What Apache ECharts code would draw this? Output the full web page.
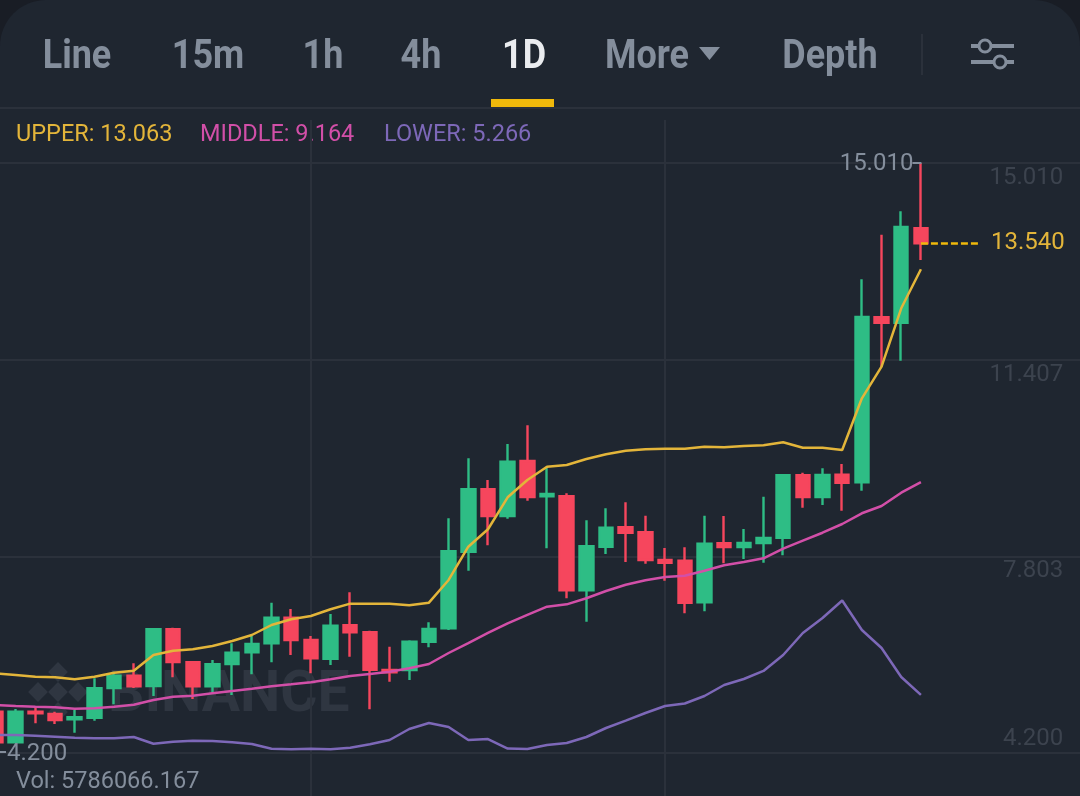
<!DOCTYPE html>
<html>
<head>
<meta charset="utf-8">
<title>1D</title>
<style>
html,body{margin:0;padding:0;background:#191d25;}
#kline{width:1080px;height:796px;}
</style>
<script src="https://cdn.jsdelivr.net/npm/echarts@6/dist/echarts.min.js"></script>
</head>
<body>
<div id="kline"></div>
<script>
let upColor = '#2ebd85'
let downColor = '#f6465d'
let bgColor = '#1f2630'
let gridColor = '#2b313b'
let grayText = '#848e9c'
let yellow = '#f0b90b'

let tabs = ['Line','15m','1h','4h','1D','More','Depth']
let priceTicks = [4.2,7.803,11.407,15.01]
let lastPrice = 13.54
let highPrice = 15.01
let lowPrice = 4.2
let volText = 'Vol: 5786066.167'

// open, close, low, high
let candles = [
	[4.957,4.396,4.39,4.97],[4.396,4.957,4.39,5.006],[4.957,4.927,4.744,5.03],[4.915,4.804,4.731,4.957],
	[4.818,4.854,4.572,4.988],[4.847,5.385,4.792,5.569],[5.391,5.616,5.092,5.69],[5.616,5.422,5.391,5.843],
	[5.428,6.466,5.244,6.49],[6.466,5.867,5.587,6.496],[5.862,5.422,5.189,5.886],[5.422,5.825,5.294,5.904],
	[5.83,6.038,5.263,6.21],[6.045,6.197,5.642,6.344],[6.21,6.679,5.862,6.954],[6.679,6.271,5.996,6.838],
	[6.271,5.935,5.66,6.344],[5.928,6.533,5.812,6.747],[6.54,6.412,5.965,7.144],[6.412,5.726,5.001,6.441],
	[5.721,5.679,5.506,6.148],[5.721,6.239,5.537,6.265],[6.239,6.472,6.137,6.595],[6.485,7.896,6.453,8.5],
	[7.888,9.032,7.54,9.6],[9.032,8.542,8.005,9.202],[8.542,9.537,8.493,9.862],[9.55,8.89,8.823,10.204],
	[8.903,8.945,7.951,9.446],[8.903,7.181,7.035,8.958],[7.181,7.987,6.606,8.464],[7.98,8.328,7.846,8.683],
	[8.335,8.236,7.7,8.793],[8.244,7.736,7.668,8.548],[7.736,7.687,7.357,7.956],[7.723,6.954,6.76,7.969],
	[6.961,8.035,6.796,8.548],[8.042,7.974,7.676,8.542],[7.974,8.048,7.754,8.304],[8.048,8.139,7.687,8.896],
	[8.145,9.288,7.822,9.294],[9.288,8.89,8.694,9.336],[8.89,9.294,8.744,9.416],[9.299,9.152,8.639,9.495],
	[9.16,12.188,9.006,12.879],[12.183,12.084,11.278,13.696],[12.084,13.838,11.388,14.125],[13.814,13.54,13.233,15.01]
]

let upper = [5.657,5.629,5.598,5.587,5.55,5.598,5.671,5.708,5.996,6.074,6.1,6.16,6.252,6.362,6.545,6.65,
	6.71,6.833,6.936,6.936,6.936,6.906,6.954,7.37,7.98,8.299,8.885,9.202,9.446,9.477,9.587,9.673,
	9.739,9.764,9.775,9.775,9.812,9.801,9.825,9.838,9.893,9.794,9.794,9.752,10.699,11.278,12.348,13.063]
let middle = [5.079,5.061,5.048,5.037,5.012,5.019,5.048,5.085,5.171,5.232,5.25,5.294,5.336,5.378,5.422,5.458,
	5.495,5.55,5.611,5.648,5.69,5.752,5.83,6.032,6.215,6.399,6.576,6.729,6.881,6.924,7.035,7.168,
	7.283,7.364,7.425,7.449,7.54,7.639,7.7,7.767,7.943,8.09,8.236,8.396,8.592,8.725,8.969,9.164]
let lower = [4.53,4.53,4.517,4.498,4.48,4.469,4.469,4.493,4.37,4.407,4.425,4.42,4.396,4.365,4.279,4.268,
	4.279,4.268,4.297,4.359,4.438,4.64,4.75,4.677,4.438,4.456,4.282,4.273,4.347,4.383,4.493,4.658,
	4.792,4.933,5.061,5.107,5.244,5.446,5.556,5.703,5.996,6.399,6.674,6.994,6.453,6.124,5.593,5.266]

// empty days keep the room on the right for the price labels
let days = []
for(let i = 0;i<56;i++) {
	days.push('D'+i)
}
let lastDay = candles.length-1
let gridDays = ['D16','D34']

function tabText(name,x) {
	return {
		type:'text',
		x:x,
		y:58,
		scaleY:1.12,
		style:{
			text:name,
			fill:name == '1D' ? '#eaecef' : grayText,
			font:'bold 36px Roboto',
			align:'center',
			verticalAlign:'middle'
		}
	}
}

function legendText(text,x,color) {
	return {
		type:'text',
		x:x,
		y:135,
		style:{text:text,fill:color,font:'23.5px Roboto',verticalAlign:'middle'}
	}
}

function makeGraphic() {
	let tabX = [77,208,323,421,524,647,830]
	let els = [
		{type:'rect',z:-2,shape:{x:0,y:0,width:1080,height:900,r:[46,46,0,0]},style:{fill:bgColor}},
		{type:'rect',shape:{x:0,y:107,width:1080,height:2},style:{fill:gridColor}},
		{type:'rect',shape:{x:491,y:99,width:63,height:8},style:{fill:yellow}},
		{type:'rect',shape:{x:921,y:34,width:2,height:41},style:{fill:gridColor}},
		{type:'polygon',shape:{points:[[699,47],[720,47],[709.5,60]]},style:{fill:grayText}},
		// settings icon
		{type:'rect',shape:{x:971,y:44,width:43,height:4},style:{fill:grayText}},
		{type:'rect',shape:{x:971,y:60,width:43,height:4},style:{fill:grayText}},
		{type:'circle',shape:{cx:985,cy:46,r:6},style:{fill:bgColor,stroke:grayText,lineWidth:3}},
		{type:'circle',shape:{cx:1000,cy:62,r:6},style:{fill:bgColor,stroke:grayText,lineWidth:3}},
		legendText('UPPER: 13.063',16,'#e3b53a'),
		legendText('MIDDLE: 9.164',200,'#d24fa8'),
		legendText('LOWER: 5.266',384,'#7d68b8'),
		{type:'text',x:16,y:782,style:{text:volText,fill:grayText,font:'23.5px Roboto',verticalAlign:'middle'}},
		// watermark
		{type:'text',x:108,y:697,style:{text:'BINANCE',fill:'#2f3641',font:'bold 57px Roboto',verticalAlign:'middle'}}
	]
	for(let i = 0;i<tabs.length;i++) {
		els.push(tabText(tabs[i],tabX[i]))
	}
	let logo = [[58,672],[38,692],[78,692],[58,712],[58,692]]
	for(let i = 0;i<logo.length;i++) {
		els.push({
			type:'rect',
			x:logo[i][0],
			y:logo[i][1],
			rotation:Math.PI/4,
			shape:{x:-7,y:-7,width:14,height:14},
			style:{fill:'#2f3641'}
		})
	}
	return els
}

function lineSeries(name,data,color) {
	return {
		name:name,
		type:'line',
		data:data,
		showSymbol:false,
		silent:true,
		z:4,
		lineStyle:{color:color,width:2.5}
	}
}

function makeChart() {
	let oneChart = echarts.init(document.getElementById('kline'))
	let option = {
		animation:false,
		backgroundColor:'#191d25',
		graphic:makeGraphic(),
		grid:{left:-13.82,width:1102,top:120,height:676,outerBoundsMode:'none'},
		xAxis:{
			type:'category',
			data:days,
			axisLine:{show:false},
			axisTick:{show:false},
			axisLabel:{show:false},
			splitLine:{
				show:true,
				alignWithLabel:true,
				interval:function(i,name) {return gridDays.indexOf(name) >= 0},
				lineStyle:{color:gridColor,width:2}
			}
		},
		yAxis:{
			type:'value',
			position:'right',
			min:3.412,
			max:15.798,
			axisLine:{show:false},
			axisTick:{show:false,customValues:priceTicks},
			splitLine:{show:true,lineStyle:{color:gridColor,width:2}},
			axisLabel:{
				inside:true,
				margin:25,
				customValues:priceTicks,
				showMinLabel:true,
				showMaxLabel:true,
				formatter:function(v) {
					return (v == lowPrice ? '{up|' : '{down|')+v.toFixed(3)+'}'
				},
				rich:{
					up:{color:'#3c434e',fontSize:24,fontFamily:'Roboto',padding:[0,0,28,0]},
					down:{color:'#3c434e',fontSize:24,fontFamily:'Roboto',padding:[30,0,0,0]}
				}
			}
		},
		series:[
			{
				name:'K',
				type:'candlestick',
				data:candles,
				barWidth:14,
				z:3,
				itemStyle:{
					color:upColor,
					color0:downColor,
					borderColor:upColor,
					borderColor0:downColor,
					borderWidth:2.4
				},
				markLine:{
					silent:true,
					symbol:'none',
					data:[[
						{coord:[days[lastDay],lastPrice]},
						{coord:[days[lastDay+3],lastPrice]}
					]],
					lineStyle:{color:yellow,type:[7,3],width:2.5},
					label:{
						position:'end',
						distance:11,
						formatter:lastPrice.toFixed(3),
						color:'#e3b53a',
						fontSize:24,
						fontFamily:'Roboto'
					}
				},
				markPoint:{
					silent:true,
					symbol:'rect',
					data:[
						{coord:[days[lastDay],highPrice],symbolSize:[9,2],symbolOffset:[-4,0],value:highPrice.toFixed(3),
							itemStyle:{color:grayText},
							label:{position:'left',distance:0,offset:[1,1],formatter:highPrice.toFixed(3),color:grayText,fontSize:24,fontFamily:'Roboto'}},
						{coord:[days[0],lowPrice],symbolSize:[10,2],symbolOffset:[5,-1],value:lowPrice.toFixed(3),
							itemStyle:{color:grayText},
							label:{position:'right',distance:1,offset:[0,2],formatter:lowPrice.toFixed(3),color:grayText,fontSize:24,fontFamily:'Roboto'}}
					]
				}
			},
			lineSeries('UPPER',upper,'#e3b53a'),
			lineSeries('MIDDLE',middle,'#d24fa8'),
			lineSeries('LOWER',lower,'#7d68b8')
		]
	}
	oneChart.setOption(option)
}

window.onload = function() {
	makeChart()
}
</script>
</body>
</html>
